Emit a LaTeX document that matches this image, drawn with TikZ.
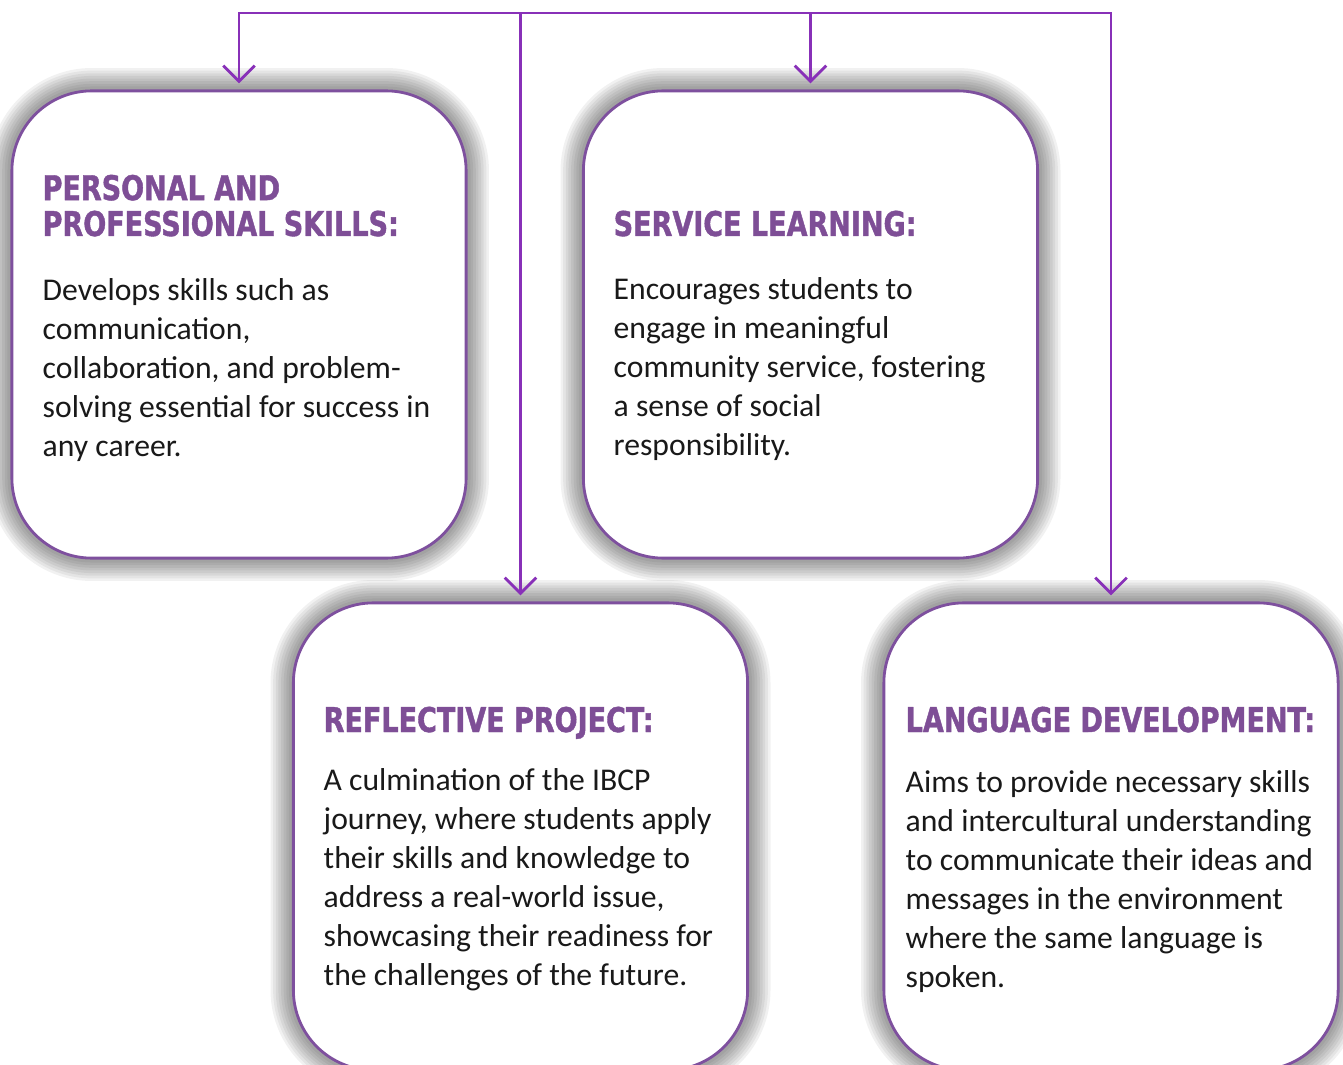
\documentclass[tikz,border=0pt]{standalone}
\usepackage{fontspec}
\setmainfont{Carlito}
\newfontfamily\headfont[FakeStretch=0.88,FakeBold=1.2]{DejaVu Sans Condensed Bold}
\usetikzlibrary{arrows.meta,positioning}

\definecolor{cardline}{RGB}{126,80,158}
\definecolor{headpurple}{RGB}{126,78,150}
\definecolor{linkpurple}{RGB}{136,48,184}

\tikzset{
	glow/.style={preaction={draw=black, draw opacity=0.055, line width=#1}},
	card/.style={draw=cardline, fill=white, line width=0.8pt, rounded corners=0.8cm,
		minimum width=4.54cm, minimum height=4.67cm,
		glow=13pt, glow=11.5pt, glow=10pt, glow=8.5pt, glow=7pt, glow=5.5pt,
		glow=4pt, glow=2.5pt},
	head/.style={anchor=base west, inner sep=0pt, align=left, text=headpurple,
		font=\headfont\fontsize{9.7}{10.2}\selectfont},
	body/.style={anchor=base west, inner sep=0pt, align=left, text=black!90,
		font=\fontsize{9}{11.07}\selectfont},
	link/.style={draw=linkpurple, line width=0.8pt},
	arr/.style={link, -{Straight Barb[length=4.5pt,width=9pt]}, shorten >=0.06cm}
}

\begin{document}
\begin{tikzpicture}[x=0.01cm,y=-0.01cm]
	\useasboundingbox (0,0) rectangle (1343,1064);
	\begin{scope}
	\clip (0,0) rectangle (1343,1064);
	% the four cards
	\node[card] (skills) at (239,324.5) {};
	\node[card] (service) at (810.5,324.5) {};
	\node[card] (project) at (520.5,836.5) {};
	\node[card] (language) at (1111,836.5) {};

	% base of a text block is its last line
	\node[head] (h1) at (42,236) {PERSONAL AND\\PROFESSIONAL SKILLS:};
	\node[body] (b1) at (42,456) {Develops skills such as\\communication,\\collaboration, and problem-\\solving essential for success in\\any career.};

	\node[head] (h2) at (613,236) {SERVICE LEARNING:};
	\node[body] (b2) at (613,455) {Encourages students to\\engage in meaningful\\community service, fostering\\a sense of social\\responsibility.};

	\node[head] (h3) at (323,732) {REFLECTIVE PROJECT:};
	\node[body] (b3) at (323,985) {A culmination of the IBCP\\journey, where students apply\\their skills and knowledge to\\address a real-world issue,\\showcasing their readiness for\\the challenges of the future.};

	\node[head] (h4) at (905,732) {LANGUAGE DEVELOPMENT:};
	\node[body] (b4) at (905,987) {Aims to provide necessary skills\\and intercultural understanding\\to communicate their ideas and\\messages in the environment\\where the same language is\\spoken.};

	% connectors from the top rail
	\coordinate (railL) at (238,13);
	\coordinate (railR) at (1112,13);
	\draw[link] (railL) -- (railR);
	\foreach \b in {skills,project,service,language}
		\draw[arr] (railL -| \b.north) -- (\b.north);
	\end{scope}
\end{tikzpicture}
\end{document}
